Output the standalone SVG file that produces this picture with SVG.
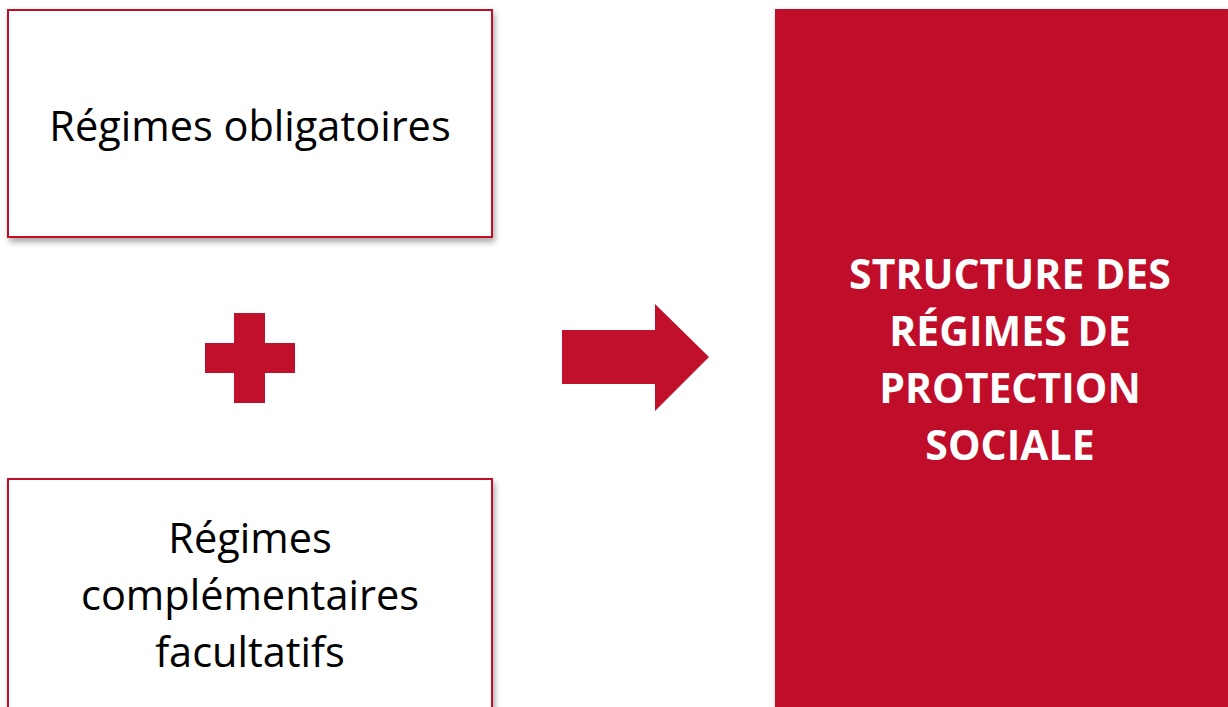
<svg xmlns="http://www.w3.org/2000/svg" width="1228" height="707" viewBox="0 0 1228 707">
<style>
.box{fill:#fff;stroke:#C0102C;stroke-width:2}
.lbl{font-family:"Open Sans","Liberation Sans",sans-serif;font-size:41.5px;fill:#000;text-anchor:middle}
.wlbl{font-family:"Open Sans","Liberation Sans",sans-serif;font-size:41px;font-weight:bold;fill:#fff;text-anchor:middle}
.red{fill:#C0102C}
</style>
<defs>
<filter id="sh" x="-5%" y="-5%" width="115%" height="120%">
<feGaussianBlur in="SourceAlpha" stdDeviation="3"/>
<feOffset dx="2" dy="4" result="b"/>
<feComponentTransfer><feFuncA type="linear" slope="0.35"/></feComponentTransfer>
<feMerge><feMergeNode/><feMergeNode in="SourceGraphic"/></feMerge>
</filter>
</defs>
<rect width="1228" height="707" fill="#fff"/>
<g id="node-obligatoires">
<rect class="box" x="8" y="10" width="484" height="227" filter="url(#sh)"/>
<text class="lbl" x="250" y="141">Régimes obligatoires</text>
</g>
<g id="node-complementaires">
<rect class="box" x="8" y="479" width="484" height="240" filter="url(#sh)"/>
<text class="lbl" x="250" y="553">Régimes</text>
<text class="lbl" x="250" y="610">complémentaires</text>
<text class="lbl" x="250" y="667">facultatifs</text>
</g>
<g id="node-plus">
<path class="red" d="M234 313H265V343H295V373H265V403H234V373H205V343H234Z"/>
</g>
<g id="connectors">
<path class="red" d="M562 330H655V304L709 357L655 411V384H562Z"/>
</g>
<g id="node-structure">
<rect class="red" x="775" y="9" width="453" height="698" filter="url(#sh)"/>
<text class="wlbl" x="1010" y="289">STRUCTURE DES</text>
<text class="wlbl" x="1010" y="346">RÉGIMES DE</text>
<text class="wlbl" x="1010" y="403">PROTECTION</text>
<text class="wlbl" x="1010" y="460">SOCIALE</text>
</g>
</svg>
